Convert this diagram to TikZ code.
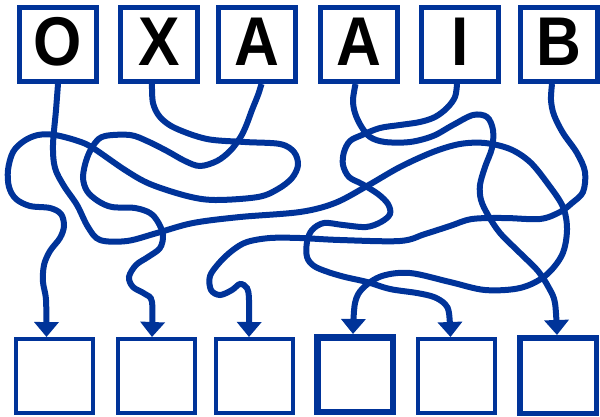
\documentclass[tikz,border=0pt]{standalone}
\usepackage{fontspec}
\setmainfont[FakeStretch=0.9]{Liberation Sans}
\usetikzlibrary{arrows.meta}
\definecolor{tangle}{RGB}{0,51,153}
\tikzset{
  letterbox/.style={draw=tangle, line width=5pt, minimum width=77pt, minimum height=74pt,
    inner sep=0pt, text depth=6pt, font=\fontsize{69}{69}\selectfont\bfseries},
  emptybox/.style={draw=tangle, line width=4pt, minimum width=77pt, minimum height=74pt, inner sep=0pt},
  wire/.style={draw=tangle, line width=6pt, -{Triangle[width=24pt,length=15pt]}},
}
\begin{document}
\begin{tikzpicture}[x=1pt,y=-1pt]
  \useasboundingbox (0,0) rectangle (600,416);

  % Letter boxes on top
  \foreach \name/\x/\letter in {tO/58/O, tX/159/X, tA/256.5/A, tAA/358.5/A, tI/460/I, tB/559/B}
    \node[letterbox] (\name) at (\x,44.5) {\letter};

  % Empty boxes below
  \foreach \name/\x in {bA/54.5, bB/156, bC/254, bE/456.5}
    \node[emptybox] (\name) at (\x,376) {};
  \node[emptybox, line width=6.5pt, minimum width=75.5pt, minimum height=74.5pt] (bD) at (355,374.5) {};
  \node[emptybox, line width=5.5pt, minimum width=76.5pt, minimum height=75.5pt] (bF) at (558,375.5) {};

  % Wire from O
  \draw[wire] plot[smooth, tension=0.55] coordinates {(tO.south) (56,110) (53,145) (55,168) (64,186)
    (77,205) (88,227) (100,240) (127,241) (157,233) (193,223) (240,217) (300,212) (335,203) (367,186)
    (400,167) (433,152) (460,144) (485,143) (510,149) (530,162) (548,184) (563,207) (567,230) (562,255)
    (545,276) (520,288) (485,290) (450,282) (410,273) (382,276) (363,288) (355,303) ([xshift=-2pt]bD.north)};

  % Wire from X
  \draw[wire] plot[smooth, tension=0.55] coordinates {([xshift=-7pt]tX.south) (153,103) (160,117) (175,128)
    (207,139) (245,142) (280,144) (294,152) (298,165) (292,178) (278,189) (258,197) (215,200) (187,196)
    (150,184) (125,170) (93,148) (78,141) (55,135) (38,135) (24,141) (13,152) (8,170) (9,187) (16,199)
    (30,206) (50,208) (61,214) (64,226) (60,238) (50,251) (44,265) (43,282) (46,300) ([xshift=-8pt]bA.north)};

  % Wire from the first A
  \draw[wire] plot[smooth, tension=0.55] coordinates {([xshift=5pt]tA.south) (258,95) (252,110) (246,126)
    (240,138) (230,151) (217,161) (200,166) (185,161) (167,151) (147,141) (130,135) (105,136) (95,143)
    (87,158) (83,177) (87,191) (98,201) (112,207) (135,208) (150,213) (158,222) (163,235) (160,248)
    (148,257) (136,265) (129,277) (133,287) (145,294) (152,302) ([xshift=-4pt]bB.north)};

  % Wire from the second A
  \draw[wire] plot[smooth, tension=0.55] coordinates {([xshift=-3pt]tAA.south) (353,100) (355,113) (361,126)
    (370,137) (385,142) (410,142) (433,136) (453,125) (473,115) (487,117) (493,130) (492,148) (485,167)
    (480,185) (481,200) (488,215) (500,233) (520,253) (538,271) (549,288) (555,303) ([xshift=-1pt]bF.north)};

  % Wire from I
  \draw[wire] plot[smooth, tension=0.55] coordinates {([xshift=-3pt]tI.south) (455,97) (447,108) (435,117)
    (420,122) (400,125) (380,128) (362,135) (350,141) (344,152) (343,165) (349,177) (362,184) (378,194)
    (388,204) (390,214) (381,222) (366,227) (343,225) (324,223) (312,230) (307,242) (307,257) (314,266)
    (328,272) (345,277) (367,282) (390,289) (417,293) (434,297) (445,304) (449,313) ([xshift=-6pt]bE.north)};

  % Wire from B
  \draw[wire] plot[smooth, tension=0.55] coordinates {([xshift=-7pt]tB.south) (551,100) (554,115) (563,133)
    (577,153) (585,172) (583,192) (572,203) (560,212) (540,219) (505,218) (472,219) (450,226) (425,234)
    (400,241) (340,240) (300,238) (270,238) (247,242) (233,250) (220,262) (210,276) (211,290) (220,295)
    (232,290) (240,284) (247,288) (249,300) ([xshift=-5pt]bC.north)};
\end{tikzpicture}
\end{document}
